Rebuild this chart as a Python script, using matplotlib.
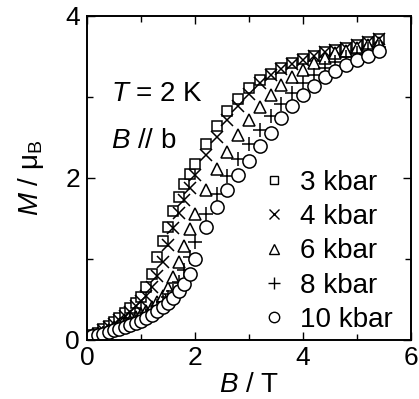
import matplotlib
matplotlib.use('Agg')
import matplotlib.pyplot as plt
from matplotlib.ticker import MultipleLocator

plt.rcParams['font.family'] = ['Liberation Sans', 'DejaVu Sans']
plt.rcParams['mathtext.fontset'] = 'custom'
plt.rcParams['mathtext.rm'] = 'Liberation Sans'
plt.rcParams['mathtext.it'] = 'Liberation Sans:italic'

# field values (T)
B = [0.1, 0.2, 0.3, 0.4, 0.5, 0.6, 0.7, 0.8, 0.9, 1.0,
     1.1, 1.2, 1.3, 1.4, 1.5, 1.6, 1.7, 1.8, 1.9,
     2.0, 2.2, 2.4, 2.6, 2.8, 3.0, 3.2, 3.4, 3.6, 3.8,
     4.0, 4.2, 4.4, 4.6, 4.8, 5.0, 5.2, 5.4]

# magnetization (mu_B) for each pressure
m_3kbar = [0.06, 0.09, 0.13, 0.17, 0.22, 0.27, 0.33, 0.39, 0.46, 0.53,
           0.65, 0.82, 1.02, 1.22, 1.40, 1.59, 1.76, 1.92, 2.05,
           2.17, 2.42, 2.64, 2.83, 2.98, 3.11, 3.21, 3.28, 3.36, 3.42,
           3.47, 3.51, 3.55, 3.58, 3.61, 3.64, 3.68, 3.71]
m_4kbar = [0.05, 0.08, 0.12, 0.16, 0.20, 0.25, 0.30, 0.35, 0.42, 0.48,
           0.54, 0.65, 0.79, 0.96, 1.17, 1.38, 1.57, 1.73, 1.88,
           2.04, 2.28, 2.51, 2.72, 2.89, 3.04, 3.17, 3.27, 3.35, 3.41,
           3.46, 3.51, 3.55, 3.58, 3.61, 3.64, 3.68, 3.71]
m_6kbar = [0.05, 0.07, 0.09, 0.12, 0.15, 0.18, 0.21, 0.24, 0.28, 0.32,
           0.36, 0.41, 0.47, 0.54, 0.64, 0.78, 0.96, 1.16, 1.37,
           1.56, 1.85, 2.11, 2.32, 2.53, 2.72, 2.88, 3.02, 3.15, 3.25,
           3.33, 3.42, 3.48, 3.54, 3.57, 3.61, 3.64, 3.67]
m_8kbar = [0.05, 0.07, 0.09, 0.11, 0.14, 0.17, 0.20, 0.23, 0.26, 0.29,
           0.33, 0.37, 0.42, 0.47, 0.53, 0.61, 0.72, 0.86, 1.02,
           1.21, 1.56, 1.80, 2.02, 2.23, 2.42, 2.59, 2.76, 2.91, 3.05,
           3.17, 3.27, 3.36, 3.43, 3.49, 3.54, 3.59, 3.62]
m_10kbar = [0.05, 0.06, 0.08, 0.10, 0.12, 0.14, 0.16, 0.18, 0.21, 0.23,
            0.27, 0.31, 0.36, 0.41, 0.46, 0.52, 0.60, 0.69, 0.81,
            1.00, 1.39, 1.64, 1.85, 2.04, 2.21, 2.40, 2.56, 2.74, 2.89,
            3.03, 3.14, 3.25, 3.32, 3.40, 3.46, 3.51, 3.57]

labels = ['3 kbar', '4 kbar', '6 kbar', '8 kbar', '10 kbar']
series = [m_3kbar, m_4kbar, m_6kbar, m_8kbar, m_10kbar]
markers = ['s', 'x', '^', '+', 'o']
sizes = [7.5, 8, 8.5, 10, 9.5]
leg_sizes = [6, 6.5, 6.5, 8.5, 7.5]

fig = plt.figure(figsize=(4.19, 3.99), dpi=100)
ax = fig.add_axes([0.2076, 0.1479, 0.7733, 0.8121])

for m, lab, mk, ms in zip(series, labels, markers, sizes):
    ax.plot(B, m, linestyle='none', marker=mk, markersize=ms,
            markerfacecolor='white', markeredgecolor='black',
            markeredgewidth=1.1, label=lab)

ax.set_xlim(0, 6)
ax.set_ylim(0, 4)
ax.xaxis.set_major_locator(MultipleLocator(2))
ax.xaxis.set_minor_locator(MultipleLocator(1))
ax.yaxis.set_major_locator(MultipleLocator(2))
ax.yaxis.set_minor_locator(MultipleLocator(1))
ax.tick_params(which='both', direction='in', top=True, right=True,
               width=1, labelsize=19)
ax.tick_params(axis='x', which='major', length=6, pad=4)
ax.tick_params(axis='y', which='major', length=6, pad=5)
ax.tick_params(which='minor', length=4)
for s in ax.spines.values():
    s.set_linewidth(1.4)

ax.set_xlabel(r'$B$ / T', fontsize=20, labelpad=2)
ax.set_ylabel(r'$M$ / μ$_\mathrm{B}$', fontsize=20, labelpad=14)

ax.text(0.074, 0.738, r'$T$ = 2 K', transform=ax.transAxes, fontsize=20)
ax.text(0.074, 0.593, r'$B$ // b', transform=ax.transAxes, fontsize=20)

leg = ax.legend(loc='lower right', bbox_to_anchor=(0.995, -0.03),
                frameon=False, fontsize=20, handlelength=0.9,
                handletextpad=0.5, labelspacing=0.3, borderaxespad=0.2)
for h, s in zip(leg.legend_handles, leg_sizes):
    h.set_markersize(s)
    h.set_markeredgewidth(1.0)

fig.savefig('out.png', dpi=100)
